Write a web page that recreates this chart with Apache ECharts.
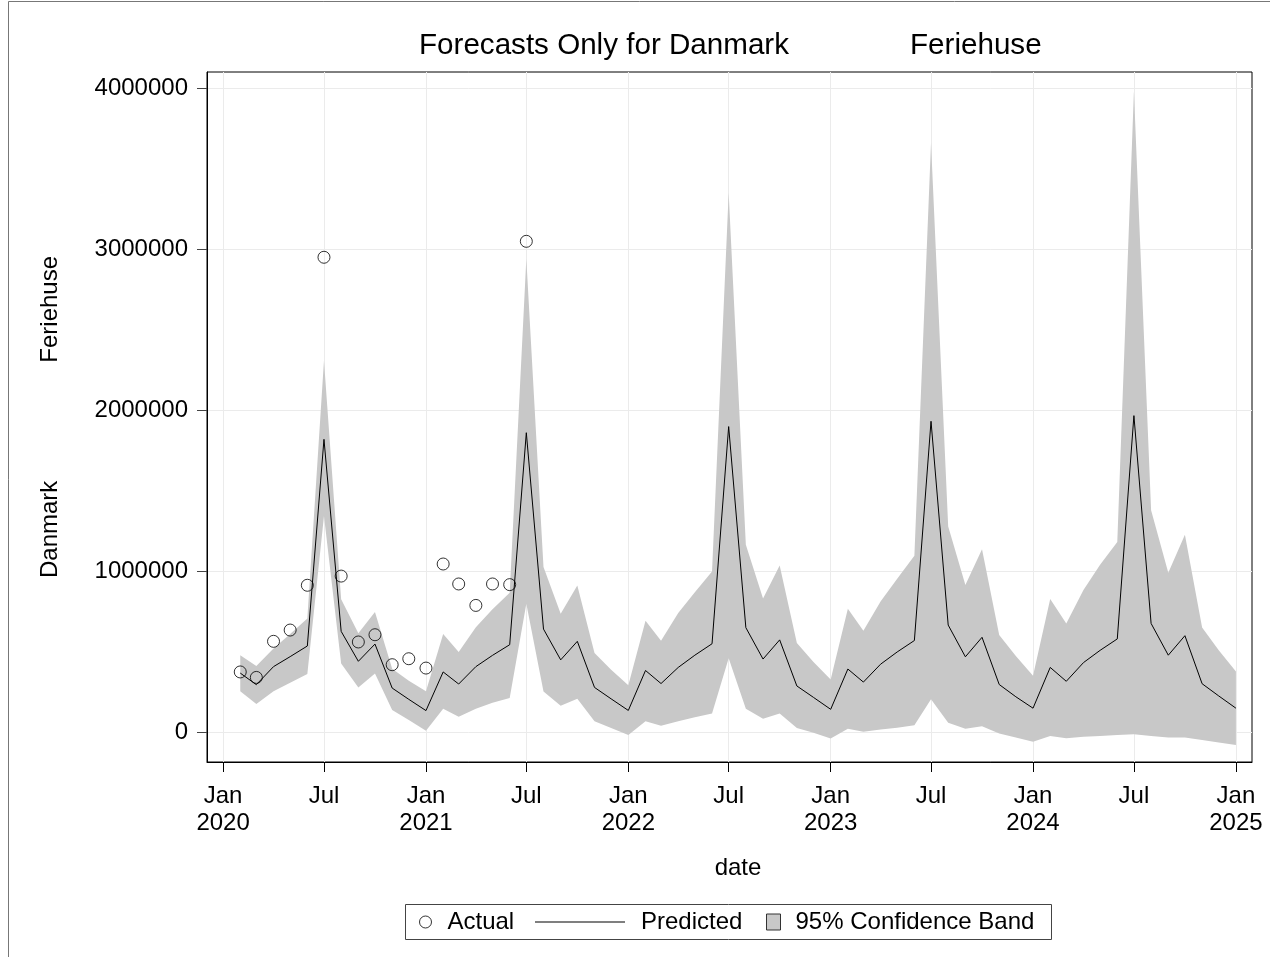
<!DOCTYPE html>
<html>
<head>
<meta charset="utf-8">
<title>Forecasts Only for Danmark Feriehuse</title>
<script src="https://cdn.jsdelivr.net/npm/echarts@6/dist/echarts.min.js"></script>
<style>
  html, body { margin: 0; padding: 0; background: #fff; }
  #chart { width: 1270px; height: 957px; }
</style>
</head>
<body>
<div id="chart"></div>
<script>
// Monthly observation dates (first of each month)
const months = [
  '2020-02-01','2020-03-01','2020-04-01','2020-05-01','2020-06-01','2020-07-01','2020-08-01','2020-09-01','2020-10-01','2020-11-01','2020-12-01',
  '2021-01-01','2021-02-01','2021-03-01','2021-04-01','2021-05-01','2021-06-01','2021-07-01','2021-08-01','2021-09-01','2021-10-01','2021-11-01','2021-12-01',
  '2022-01-01','2022-02-01','2022-03-01','2022-04-01','2022-05-01','2022-06-01','2022-07-01','2022-08-01','2022-09-01','2022-10-01','2022-11-01','2022-12-01',
  '2023-01-01','2023-02-01','2023-03-01','2023-04-01','2023-05-01','2023-06-01','2023-07-01','2023-08-01','2023-09-01','2023-10-01','2023-11-01','2023-12-01',
  '2024-01-01','2024-02-01','2024-03-01','2024-04-01','2024-05-01','2024-06-01','2024-07-01','2024-08-01','2024-09-01','2024-10-01','2024-11-01','2024-12-01',
  '2025-01-01'
];

// Observed values (Feb 2020 - Jul 2021)
const actual = [
  377000, 343000, 567000, 637000, 915000, 2951000, 972000, 563000, 608000, 422000, 459000,
  401000, 1047000, 923000, 790000, 923000, 919000, 3050000
];

// Model predictions
const predicted = [
  370000, 298000, 410000, 472000, 538000, 1821000, 629000, 443000, 550000, 277000, 207000,
  137000, 377000, 302000, 410000, 480000, 546000, 1862000, 643000, 452000, 567000, 281000, 210000,
  138000, 386000, 305000, 405000, 481000, 552000, 1900000, 652000, 457000, 576000, 290000, 219000,
  145000, 395000, 314000, 425000, 501000, 572000, 1933000, 668000, 471000, 592000, 299000, 223000,
  152000, 405000, 319000, 435000, 511000, 582000, 1968000, 678000, 481000, 602000, 304000, 228000,
  152000
];

// 95% confidence limits
const upper = [
  480000, 414000, 523000, 612000, 708000, 2309000, 828000, 617000, 749000, 397000, 323000,
  257000, 612000, 501000, 654000, 766000, 869000, 2940000, 1029000, 738000, 914000, 495000, 390000,
  295000, 695000, 571000, 743000, 871000, 1000000, 3350000, 1167000, 833000, 1038000, 557000, 438000,
  330000, 769000, 632000, 815000, 956000, 1098000, 3660000, 1280000, 916000, 1138000, 607000, 476000,
  354000, 830000, 678000, 885000, 1042000, 1184000, 3980000, 1381000, 992000, 1229000, 653000, 511000,
  379000
];
const lower = [
  257000, 178000, 257000, 310000, 364000, 1345000, 430000, 281000, 368000, 141000, 79000,
  12000, 149000, 99000, 149000, 186000, 215000, 800000, 255000, 167000, 210000, 71000, 29000,
  -14000, 71000, 43000, 71000, 95000, 119000, 462000, 148000, 86000, 119000, 29000, 0,
  -36000, 25000, 5000, 20000, 30000, 46000, 207000, 61000, 25000, 40000, -5000, -30000,
  -56000, -20000, -35000, -25000, -20000, -15000, -10000, -20000, -30000, -30000, -46000, -61000,
  -76000
];

// Axis tick positions
const xTickDates = [
  '2020-01-01','2020-07-01','2021-01-01','2021-07-01','2022-01-01','2022-07-01',
  '2023-01-01','2023-07-01','2024-01-01','2024-07-01','2025-01-01'
];
const yTickValues = [0, 1000000, 2000000, 3000000, 4000000];

const toTime = s => {
  const p = s.split('-').map(Number);
  return new Date(p[0], p[1] - 1, p[2]).getTime();
};
const monthNames = ['Jan','Feb','Mar','Apr','May','Jun','Jul','Aug','Sep','Oct','Nov','Dec'];

const FONT = '"Liberation Sans", Arial, Helvetica, sans-serif';
const times = months.map(toTime);
const xTicks = xTickDates.map(toTime);

// One polygon for the whole confidence band: upper limit left-to-right,
// then lower limit right-to-left, mapped through the axes.
function renderBand(params, api) {
  if (params.dataIndexInside !== 0) return null;
  const n = params.dataInsideLength;
  const pts = [];
  for (let i = 0; i < n; i++) pts.push(api.coord([api.value(0, i), api.value(2, i)]));
  for (let i = n - 1; i >= 0; i--) pts.push(api.coord([api.value(0, i), api.value(1, i)]));
  return {
    type: 'polygon',
    shape: { points: pts },
    style: { fill: '#c8c8c8', stroke: null }
  };
}

const chart = echarts.init(document.getElementById('chart'), null, { renderer: 'canvas' });

chart.setOption({
  animation: false,
  backgroundColor: '#fff',
  textStyle: { fontFamily: FONT, color: '#000' },
  title: [
    { text: 'Forecasts Only for Danmark', left: 419, top: 31, padding: 0,
      textStyle: { fontFamily: FONT, fontSize: 29.6, fontWeight: 'normal', color: '#000' } },
    { text: 'Feriehuse', left: 910, top: 31, padding: 0,
      textStyle: { fontFamily: FONT, fontSize: 29.6, fontWeight: 'normal', color: '#000' } }
  ],
  grid: {
    left: 207, top: 72, right: 18, bottom: 195,
    show: true, borderColor: '#000', borderWidth: 1, backgroundColor: '#fff',
    containLabel: false, outerBoundsMode: 'none'
  },
  xAxis: {
    // dates are carried as millisecond timestamps on a linear scale
    type: 'value',
    min: toTime('2019-12-03'),
    max: toTime('2025-01-30'),
    name: 'date',
    nameLocation: 'middle',
    nameGap: 94,
    nameTextStyle: { fontFamily: FONT, fontSize: 24, color: '#000', padding: [0, 0, 0, 17] },
    axisLine: { show: true, onZero: false, lineStyle: { color: '#000', width: 1 } },
    axisTick: { show: true, length: 10, inside: false, customValues: xTicks, lineStyle: { color: '#000' } },
    axisLabel: {
      customValues: xTicks,
      margin: 21,
      fontFamily: FONT, fontSize: 24, lineHeight: 27, color: '#000',
      formatter: v => {
        const d = new Date(v);
        const m = monthNames[d.getMonth()];
        return d.getMonth() === 0 ? m + '\n' + d.getFullYear() : m;
      }
    },
    splitLine: { show: true, lineStyle: { color: '#ebebeb', width: 1 } }
  },
  yAxis: {
    type: 'value',
    min: -182000,
    max: 4101000,
    name: '{a|Danmark}{g|}{b|Feriehuse}',
    nameLocation: 'middle',
    nameRotate: 90,
    nameGap: 145,
    nameTextStyle: {
      fontFamily: FONT, fontSize: 24, color: '#000',
      rich: {
        a: { fontFamily: FONT, fontSize: 24, color: '#000' },
        g: { width: 118 },
        b: { fontFamily: FONT, fontSize: 24, color: '#000' }
      }
    },
    axisLine: { show: true, onZero: false, lineStyle: { color: '#000', width: 1 } },
    axisTick: { show: true, length: 10, inside: false, customValues: yTickValues, lineStyle: { color: '#444' } },
    axisLabel: {
      customValues: yTickValues,
      margin: 19,
      fontFamily: FONT, fontSize: 24, color: '#000',
      formatter: v => String(v)
    },
    splitLine: { show: true, lineStyle: { color: '#ebebeb', width: 1 } }
  },
  legend: [
    {
      left: 419, top: 910, padding: 0, itemWidth: 12, itemHeight: 12, selectedMode: false,
      textStyle: { fontFamily: FONT, fontSize: 24, lineHeight: 24, color: '#000', padding: [0, 0, 0, 11] },
      data: [{ name: 'Actual', icon: 'circle',
        itemStyle: { color: '#fff', borderColor: '#000', borderWidth: 1 } }]
    },
    {
      left: 535, top: 910, padding: 0, itemWidth: 90, itemHeight: 1, selectedMode: false,
      textStyle: { fontFamily: FONT, fontSize: 24, lineHeight: 24, color: '#000', padding: [0, 0, 0, 11] },
      data: [{ name: 'Predicted', icon: 'rect', itemStyle: { color: '#000', borderWidth: 0 } }]
    },
    {
      left: 766, top: 910, padding: 0, itemWidth: 14, itemHeight: 16, selectedMode: false,
      textStyle: { fontFamily: FONT, fontSize: 24, lineHeight: 24, color: '#000', padding: [0, 0, 0, 10] },
      data: [{ name: '95% Confidence Band', icon: 'rect',
        itemStyle: { color: '#c8c8c8', borderColor: '#333', borderWidth: 1 } }]
    }
  ],
  graphic: [
    // legend frame
    { type: 'rect', silent: true, z: 100,
      shape: { x: 405.5, y: 904.5, width: 646, height: 35 },
      style: { fill: 'none', stroke: '#444', lineWidth: 1 } },
    // page outline
    { type: 'line', silent: true, shape: { x1: 8.5, y1: 1.5, x2: 1270, y2: 1.5 },
      style: { stroke: '#777', lineWidth: 1 } },
    { type: 'line', silent: true, shape: { x1: 8.5, y1: 1.5, x2: 8.5, y2: 957 },
      style: { stroke: '#777', lineWidth: 1 } }
  ],
  series: [
    {
      name: '95% Confidence Band',
      type: 'custom',
      renderItem: renderBand,
      itemStyle: { color: '#c8c8c8' },
      encode: { x: 0, y: [1, 2] },
      data: times.map((t, i) => [t, lower[i], upper[i]]),
      z: 1
    },
    {
      name: 'Predicted',
      type: 'line',
      symbol: 'none',
      color: '#000',
      lineStyle: { color: '#000', width: 1 },
      data: times.map((t, i) => [t, predicted[i]]),
      z: 3
    },
    {
      name: 'Actual',
      type: 'scatter',
      symbol: 'circle',
      symbolSize: 12,
      itemStyle: { color: 'rgba(255,255,255,0)', borderColor: '#000', borderWidth: 1 },
      data: actual.map((v, i) => [times[i], v]),
      z: 4
    }
  ]
});
</script>
</body>
</html>
